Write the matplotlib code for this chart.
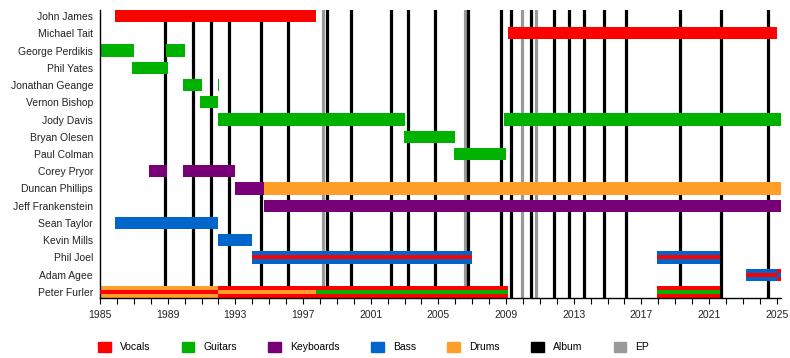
import matplotlib
matplotlib.use("Agg")
import matplotlib.pyplot as plt
from matplotlib.patches import Patch

plt.rcParams['font.family'] = ['Liberation Sans', 'DejaVu Sans']

# 멤버 (위에서 아래 순서)
members = ["John James", "Michael Tait", "George Perdikis", "Phil Yates",
           "Jonathan Geange", "Vernon Bishop", "Jody Davis", "Bryan Olesen",
           "Paul Colman", "Corey Pryor", "Duncan Phillips", "Jeff Frankenstein",
           "Sean Taylor", "Kevin Mills", "Phil Joel", "Adam Agee", "Peter Furler"]

# 역할 색
role_colors = {
    "Vocals": "#ff0000",
    "Guitars": "#00b200",
    "Keyboards": "#770077",
    "Bass": "#0066cc",
    "Drums": "#ff9f2a",
}
release_colors = {"Album": "#000000", "EP": "#999999"}

# 활동 기간: (멤버, 시작, 끝, 바깥 역할, 안쪽 역할)
spans = [
    ("John James", 1985.9, 1997.75, "Vocals", None),
    ("Michael Tait", 2009.1, 2025.0, "Vocals", None),
    ("George Perdikis", 1985.0, 1987.0, "Guitars", None),
    ("George Perdikis", 1988.9, 1990.0, "Guitars", None),
    ("Phil Yates", 1986.9, 1989.0, "Guitars", None),
    ("Jonathan Geange", 1989.9, 1991.0, "Guitars", None),
    ("Jonathan Geange", 1991.95, 1992.05, "Guitars", None),
    ("Vernon Bishop", 1990.9, 1992.0, "Guitars", None),
    ("Jody Davis", 1992.0, 2003.0, "Guitars", None),
    ("Jody Davis", 2008.9, 2025.25, "Guitars", None),
    ("Bryan Olesen", 2002.95, 2006.0, "Guitars", None),
    ("Paul Colman", 2005.9, 2009.0, "Guitars", None),
    ("Corey Pryor", 1987.9, 1988.95, "Keyboards", None),
    ("Corey Pryor", 1989.9, 1993.0, "Keyboards", None),
    ("Duncan Phillips", 1992.95, 1994.7, "Keyboards", None),
    ("Duncan Phillips", 1994.7, 2025.25, "Drums", None),
    ("Jeff Frankenstein", 1994.7, 2025.25, "Keyboards", None),
    ("Sean Taylor", 1985.9, 1992.0, "Bass", None),
    ("Kevin Mills", 1991.95, 1994.0, "Bass", None),
    ("Phil Joel", 1994.0, 2007.0, "Bass", "Vocals"),
    ("Phil Joel", 2017.9, 2021.65, "Bass", "Vocals"),
    ("Adam Agee", 2023.2, 2025.0, "Bass", "Vocals"),
    ("Adam Agee", 2025.0, 2025.25, "Vocals", "Bass"),
    ("Peter Furler", 1985.0, 1992.0, "Drums", "Vocals"),
    ("Peter Furler", 1992.0, 1997.75, "Vocals", "Drums"),
    ("Peter Furler", 1997.75, 2009.1, "Vocals", "Guitars"),
    ("Peter Furler", 2017.9, 2021.65, "Vocals", "Guitars"),
]

# 발매 (연도)
albums = [1988.87, 1990.5, 1991.55, 1992.65, 1994.5, 1996.1, 1998.4, 1999.83,
          2002.2, 2003.2, 2004.8, 2006.75, 2008.7, 2009.3, 2010.5, 2011.85,
          2012.7, 2013.6, 2014.8, 2016.1, 2019.3, 2021.7, 2024.5]
eps = [1998.2, 2006.6, 2009.95, 2010.75]

x_start, x_end = 1985, 2025.25
year_ticks = list(range(1985, 2026, 4))

fig = plt.figure(figsize=(7.9, 3.58), dpi=100)
ax = fig.add_axes([100 / 790, 1 - 298 / 358, 681 / 790, 288 / 358])

bar_h = 0.7
for x in eps:
    ax.axvline(x, color=release_colors["EP"], lw=2.3, zorder=1)
for x in albums:
    ax.axvline(x, color=release_colors["Album"], lw=2.3, zorder=1)

for name, s, e, role, inner in spans:
    y = members.index(name)
    ax.barh(y, e - s, left=s, height=bar_h, color=role_colors[role], zorder=2, linewidth=0)
    if inner:
        ax.barh(y, e - s, left=s, height=bar_h / 3, color=role_colors[inner], zorder=3, linewidth=0)

ax.set_xlim(x_start, x_end)
ax.set_ylim(len(members) - 1 + bar_h / 2, -bar_h / 2)
ax.set_yticks(range(len(members)))
ax.set_yticklabels(members, fontsize=7.5, color="#222222")
ax.tick_params(axis="y", length=0, pad=5)
ax.set_xticks(year_ticks)
ax.set_xticks(range(1985, 2026), minor=True)
ax.tick_params(axis="x", which="both", length=4.5, width=0.8, labelsize=7.5,
               labelcolor="#222222", pad=4.5)
for side in ["top", "right"]:
    ax.spines[side].set_visible(False)
ax.spines["left"].set_linewidth(1)
ax.spines["bottom"].set_linewidth(1)

handles = [Patch(color=c, label=k) for k, c in role_colors.items()]
handles += [Patch(color=c, label=k) for k, c in release_colors.items()]
fig.legend(handles=handles, loc="center left", bbox_to_anchor=(98 / 790, 1 - 347 / 358),
           ncol=7, frameon=False, fontsize=7.5, handlelength=1.2, handleheight=1.2,
           handletextpad=0.9, columnspacing=3.0, borderpad=0, borderaxespad=0)

fig.savefig("out.png", dpi=100)
